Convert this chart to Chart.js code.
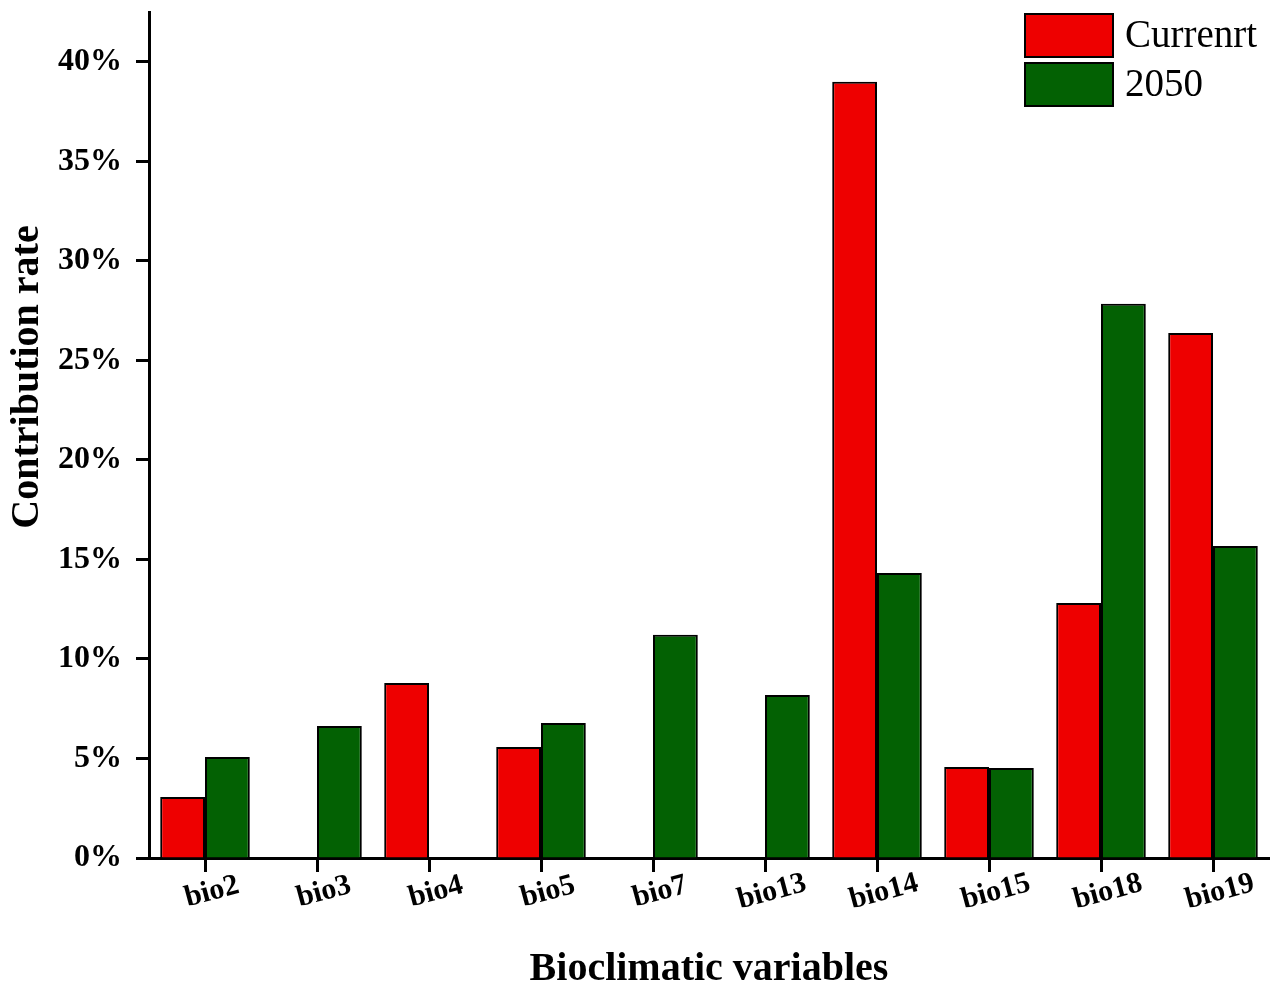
<!DOCTYPE html>
<html lang="en">
<head>
<meta charset="UTF-8">
<script src="https://cdn.jsdelivr.net/npm/chart.js@4.4.0/dist/chart.umd.min.js"></script>
<title>Contribution rate</title>
<style>
    body { margin: 0; background: #fff; }
    #chart_div { width: 1273px; height: 984px; }
</style>
</head>
<body>
<div id="chart_div"><canvas id="myChart"></canvas></div>
<script>
    // data (percent)
    const labels = ['bio2', 'bio3', 'bio4', 'bio5', 'bio7', 'bio13', 'bio14', 'bio15', 'bio18', 'bio19'];
    const currentVals = [3.07, 0, 8.79, 5.58, 0, 0, 38.99, 4.57, 12.81, 26.38];
    const futureVals = [5.08, 6.63, 0, 6.78, 11.21, 8.19, 14.32, 4.52, 27.84, 15.68];
    const seriesNames = ['Currenrt', '2050'];
    const yTicks = [0, 5, 10, 15, 20, 25, 30, 35, 40];

    const serif = '"Liberation Serif", "Times New Roman", serif';

    // rotated x labels, axis titles and legend
    const extras = {
        id: 'extras',
        afterDraw(chart) {
            const ctx = chart.ctx;
            const x = chart.scales.x;
            ctx.save();
            ctx.fillStyle = '#000';
            ctx.font = 'bold 30px ' + serif;
            ctx.textAlign = 'center';
            ctx.textBaseline = 'middle';
            labels.forEach(function (lab, i) {
                ctx.save();
                ctx.translate(x.getPixelForValue(i) + 7, 892);
                ctx.rotate(-15 * Math.PI / 180);
                ctx.fillText(lab, 0, 0);
                ctx.restore();
            });

            ctx.font = 'bold 40px ' + serif;
            ctx.fillText('Bioclimatic variables', (chart.chartArea.left + chart.chartArea.right) / 2, 970);
            ctx.save();
            ctx.translate(28, 377);
            ctx.rotate(-Math.PI / 2);
            ctx.fillText('Contribution rate', 0, 0);
            ctx.restore();

            // legend
            ctx.font = '39px ' + serif;
            ctx.textAlign = 'left';
            chart.data.datasets.forEach(function (ds, i) {
                const top = 14 + i * 49;
                ctx.fillStyle = ds.backgroundColor;
                ctx.fillRect(1025, top, 88, 43);
                ctx.lineWidth = 2;
                ctx.strokeStyle = '#000';
                ctx.strokeRect(1025, top, 88, 43);
                ctx.fillStyle = '#000';
                ctx.fillText(ds.label, 1125, top + 23);
            });
            ctx.restore();
        }
    };

    const config = {
        type: 'bar',
        data: {
            labels: labels,
            datasets: [{
                label: seriesNames[0],
                data: currentVals,
                backgroundColor: '#ee0000',
                borderColor: '#000',
                borderWidth: 2
            }, {
                label: seriesNames[1],
                data: futureVals,
                backgroundColor: '#036103',
                borderColor: '#000',
                borderWidth: 2
            }]
        },
        options: {
            responsive: true,
            maintainAspectRatio: false,
            animation: false,
            layout: { padding: { left: 49, right: 4, top: 12, bottom: 0 } },
            datasets: { bar: { categoryPercentage: 0.8, barPercentage: 1.0 } },
            plugins: {
                legend: { display: false },
                tooltip: { enabled: false }
            },
            scales: {
                x: {
                    offset: true,
                    grid: {
                        offset: false,
                        drawOnChartArea: false,
                        drawTicks: true,
                        tickLength: 14,
                        tickWidth: 3,
                        tickColor: '#000'
                    },
                    border: { color: '#000', width: 3 },
                    ticks: { display: false },
                    afterFit: function (s) { s.height = 126; s.paddingLeft = 0; s.paddingRight = 0; }
                },
                y: {
                    min: 0,
                    max: 42.5,
                    afterBuildTicks: function (s) {
                        s.ticks = yTicks.map(function (v) { return { value: v }; });
                    },
                    grid: {
                        drawOnChartArea: false,
                        drawTicks: true,
                        tickLength: 13,
                        tickWidth: 3,
                        tickColor: '#000'
                    },
                    border: { color: '#000', width: 3 },
                    ticks: {
                        color: '#000',
                        padding: 14,
                        font: { family: serif, size: 32, weight: 'bold' },
                        callback: function (v) { return v + '%'; }
                    },
                    afterFit: function (s) { s.width = 100; s.paddingTop = 0; s.paddingBottom = 0; }
                }
            }
        },
        plugins: [extras]
    };

    new Chart(document.getElementById('myChart'), config);
</script>
</body>
</html>
